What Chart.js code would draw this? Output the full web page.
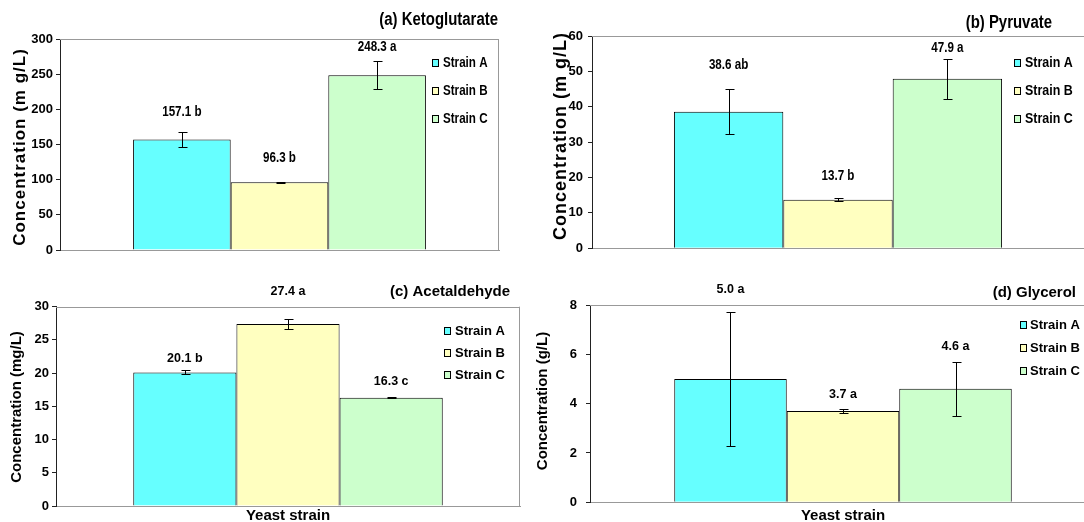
<!DOCTYPE html>
<html>
<head>
<meta charset="utf-8">
<title>Yeast strain metabolites</title>
<script src="https://cdn.jsdelivr.net/npm/chart.js@4.4.1/dist/chart.umd.min.js"></script>
<style>
  html, body { margin: 0; padding: 0; background: #fff; overflow: hidden; width: 1084px; height: 522px; }
  canvas { position: absolute; }
</style>
</head>
<body>
<canvas id="chartA" width="542" height="261" style="left:0px;top:0px"></canvas>
<canvas id="chartB" width="542" height="261" style="left:542px;top:0px"></canvas>
<canvas id="chartC" width="542" height="261" style="left:0px;top:261px"></canvas>
<canvas id="chartD" width="572" height="261" style="left:530px;top:261px"></canvas>
<script>
// data
var strains = ['Strain A', 'Strain B', 'Strain C'];
var strainColors = ['#66ffff', '#ffffc0', '#ccffcc'];

var ketoMeans = [157.1, 96.3, 248.3];
var ketoErrors = [10.5, 1.0, 20.0];
var ketoLetters = ['b', 'b', 'a'];
var ketoAxis = [0, 300, 50];   // min, max, step

var pyruvateMeans = [38.6, 13.7, 47.9];
var pyruvateErrors = [6.4, 0.4, 5.6];
var pyruvateLetters = ['ab', 'b', 'a'];
var pyruvateAxis = [0, 60, 10];

var acetMeans = [20.1, 27.4, 16.3];
var acetErrors = [0.3, 0.7, 0.1];
var acetLetters = ['b', 'a', 'c'];
var acetAxis = [0, 30, 5];

var glycerolMeans = [5.0, 3.7, 4.6];
var glycerolErrors = [2.7, 0.08, 1.1];
var glycerolLetters = ['a', 'a', 'a'];
var glycerolAxis = [0, 8, 2];

var sans = '"Liberation Sans", Arial, sans-serif';

// text squeezed sideways (top panels use a condensed look)
function putText(ctx, text, x, y, sx) {
  ctx.save();
  ctx.translate(x, y);
  ctx.scale(sx, 1);
  ctx.fillText(text, 0, 0);
  ctx.restore();
}

// titles, legend, error bars and value labels
var panelDecor = {
  id: 'panelDecor',
  beforeDatasetsDraw: function(chart, args, o) {
    var ctx = chart.ctx, a = chart.chartArea;
    ctx.save();
    ctx.strokeStyle = '#999';
    ctx.lineWidth = 1;
    ctx.beginPath();
    ctx.moveTo(a.left, Math.round(a.top) + 0.5);
    ctx.lineTo(o.frameRight ? a.right : chart.width, Math.round(a.top) + 0.5);
    if (o.frameRight) {
      ctx.moveTo(Math.round(a.right) - 0.5, a.top);
      ctx.lineTo(Math.round(a.right) - 0.5, a.bottom);
    }
    ctx.stroke();
    ctx.restore();
  },
  afterDatasetsDraw: function(chart, args, o) {
    var ctx = chart.ctx, y = chart.scales.y;
    ctx.save();
    ctx.strokeStyle = '#000';
    ctx.lineWidth = 1;
    ctx.fillStyle = '#000';
    ctx.font = 'bold ' + o.labelSize + 'px ' + sans;
    ctx.textAlign = 'center';
    ctx.textBaseline = 'middle';
    chart.data.datasets.forEach(function(ds, i) {
      var bar = chart.getDatasetMeta(i).data[0];
      var v = ds.data[0], e = o.errors[i];
      var x = Math.round(bar.x) + 0.5;
      var yt = Math.round(y.getPixelForValue(v + e)) + 0.5;
      var yb = Math.round(y.getPixelForValue(v - e)) + 0.5;
      ctx.beginPath();
      ctx.moveTo(x, yt); ctx.lineTo(x, yb);
      ctx.moveTo(x - 4, yt); ctx.lineTo(x + 5, yt);
      ctx.moveTo(x - 4, yb); ctx.lineTo(x + 5, yb);
      ctx.stroke();
      putText(ctx, v.toFixed(1) + ' ' + o.letters[i], bar.x, bar.y - o.lift[i], o.squeeze);
    });
    ctx.restore();
  },
  afterDraw: function(chart, args, o) {
    var ctx = chart.ctx, a = chart.chartArea;
    ctx.save();
    ctx.fillStyle = '#000';
    // panel title
    ctx.font = 'bold ' + o.titleSize + 'px ' + sans;
    ctx.textAlign = 'right';
    ctx.textBaseline = 'middle';
    putText(ctx, o.title, o.titleX, o.titleY, o.squeeze);
    // legend
    ctx.font = 'bold ' + o.legendSize + 'px ' + sans;
    ctx.textAlign = 'left';
    chart.data.datasets.forEach(function(ds, i) {
      var ly = o.legendY + i * o.legendGap;
      ctx.fillStyle = ds.backgroundColor;
      ctx.fillRect(o.legendBoxX, ly - 3, 6, 7);
      ctx.strokeStyle = '#000';
      ctx.lineWidth = 1;
      ctx.strokeRect(o.legendBoxX + 0.5, ly - 3.5, 6, 7);
      ctx.fillStyle = '#000';
      putText(ctx, ds.label, o.legendTextX, ly, o.squeeze);
    });
    // y axis title
    ctx.save();
    ctx.translate(o.yTitleX, o.yTitleY);
    ctx.rotate(-Math.PI / 2);
    ctx.font = 'bold ' + o.yTitleSize + 'px ' + sans;
    ctx.letterSpacing = o.yTitleSpacing + 'px';
    ctx.textAlign = 'center';
    ctx.textBaseline = 'middle';
    ctx.fillText(o.yTitle, 0, 0);
    ctx.restore();
    // x axis title
    if (o.xTitle) {
      ctx.font = 'bold ' + o.xTitleSize + 'px ' + sans;
      ctx.textAlign = 'center';
      ctx.textBaseline = 'middle';
      ctx.fillText(o.xTitle, (a.left + a.right) / 2, o.xTitleY);
    }
    ctx.restore();
  }
};

function makePanel(id, means, errors, letters, axis, s) {
  var datasets = strains.map(function(name, i) {
    return {
      label: name,
      data: [means[i]],
      backgroundColor: strainColors[i],
      borderColor: '#000',
      borderWidth: 1,
      categoryPercentage: 0.667,
      barPercentage: 1
    };
  });
  var decor = Object.assign({ errors: errors, letters: letters }, s);
  return new Chart(document.getElementById(id), {
    type: 'bar',
    data: { labels: [''], datasets: datasets },
    plugins: [panelDecor],
    options: {
      responsive: false,
      animation: false,
      layout: { padding: s.padding },
      plugins: {
        legend: { display: false },
        title: { display: false },
        tooltip: { enabled: false },
        panelDecor: decor
      },
      scales: {
        x: {
          ticks: { display: false },
          grid: { display: false },
          border: { display: true, color: '#999', width: 1 },
          afterFit: function(sc) { sc.height = 0; }
        },
        y: {
          min: axis[0],
          max: axis[1],
          ticks: {
            stepSize: axis[2],
            color: '#000',
            padding: s.tickPad,
            font: { family: sans, size: s.tickSize, weight: 'bold' }
          },
          grid: { display: true, drawOnChartArea: false, drawTicks: true, tickLength: 4, color: '#222' },
          border: { display: true, color: '#222', width: 1 },
          afterFit: function(sc) { sc.width = 30; }
        }
      }
    }
  });
}

makePanel('chartA', ketoMeans, ketoErrors, ketoLetters, ketoAxis, {
  padding: { left: 30, top: 39, right: 43, bottom: 11 },
  frameRight: true, squeeze: 0.83, tickSize: 13, tickPad: 3, labelSize: 14,
  title: '(a) Ketoglutarate', titleSize: 18, titleX: 498, titleY: 20,
  legendSize: 14, legendBoxX: 432, legendTextX: 443, legendY: 63, legendGap: 28,
  lift: [27, 24, 28],
  yTitle: 'Concentration (m g/L)', yTitleX: 20, yTitleY: 147, yTitleSize: 17, yTitleSpacing: 1
});

makePanel('chartB', pyruvateMeans, pyruvateErrors, pyruvateLetters, pyruvateAxis, {
  padding: { left: 20, top: 36, right: 0, bottom: 11 },
  frameRight: false, squeeze: 0.83, tickSize: 13, tickPad: 5, labelSize: 14,
  title: '(b) Pyruvate', titleSize: 18, titleX: 510, titleY: 23,
  legendSize: 15, legendBoxX: 472, legendTextX: 483, legendY: 63, legendGap: 28,
  lift: [47, 24, 31],
  yTitle: 'Concentration (m g/L)', yTitleX: 19, yTitleY: 136, yTitleSize: 18, yTitleSpacing: 1
});

makePanel('chartC', acetMeans, acetErrors, acetLetters, acetAxis, {
  padding: { left: 26, top: 45.7, right: 22, bottom: 16 },
  frameRight: true, squeeze: 1, tickSize: 13, tickPad: 3, labelSize: 12.5,
  title: '(c) Acetaldehyde', titleSize: 15, titleX: 510, titleY: 31,
  legendSize: 13, legendBoxX: 444, legendTextX: 455, legendY: 70, legendGap: 22,
  lift: [14, 32, 16],
  yTitle: 'Concentration (mg/L)', yTitleX: 17, yTitleY: 146, yTitleSize: 15, yTitleSpacing: 0,
  xTitle: 'Yeast strain', xTitleSize: 15, xTitleY: 255
});

makePanel('chartD', glycerolMeans, glycerolErrors, glycerolLetters, glycerolAxis, {
  padding: { left: 30, top: 44, right: 6, bottom: 19.7 },
  frameRight: false, squeeze: 1, tickSize: 13, tickPad: 9, labelSize: 12.5,
  title: '(d) Glycerol', titleSize: 15, titleX: 546, titleY: 32,
  legendSize: 13, legendBoxX: 490, legendTextX: 500, legendY: 64, legendGap: 23,
  lift: [89, 17, 42],
  yTitle: 'Concentration (g/L)', yTitleX: 13, yTitleY: 140, yTitleSize: 15, yTitleSpacing: 0,
  xTitle: 'Yeast strain', xTitleSize: 15, xTitleY: 255
});
</script>
</body>
</html>
